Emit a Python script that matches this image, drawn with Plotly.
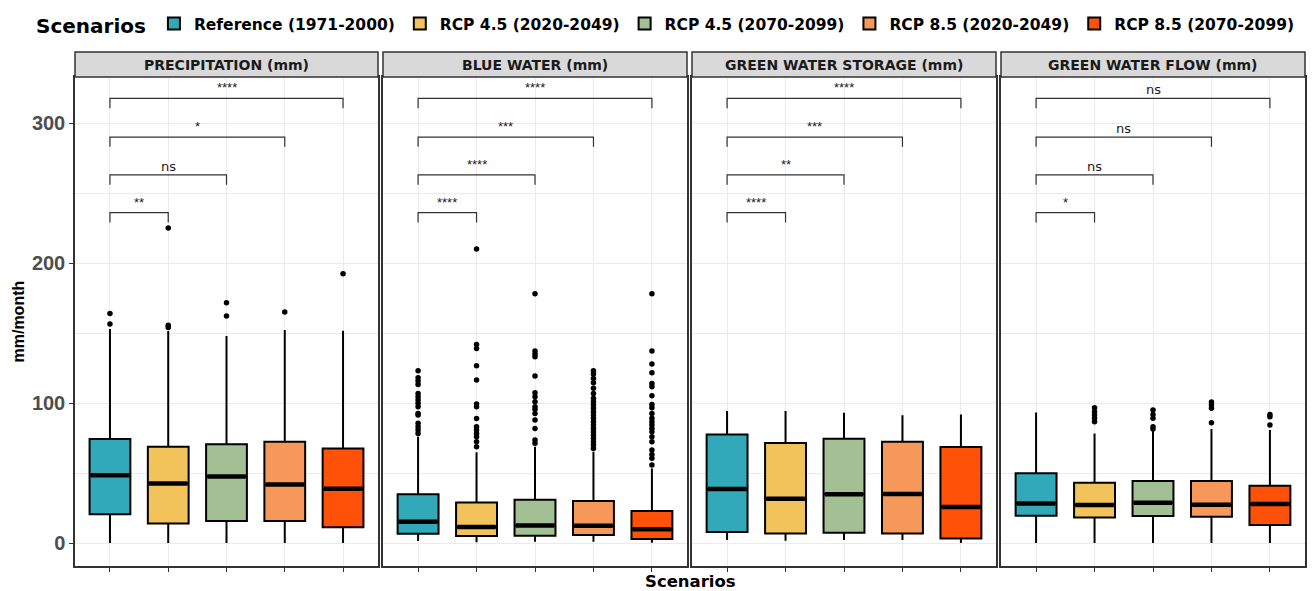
import plotly.graph_objects as go

# ---- data -------------------------------------------------------------
scenarios = ["Reference (1971-2000)", "RCP 4.5 (2020-2049)", "RCP 4.5 (2070-2099)",
             "RCP 8.5 (2020-2049)", "RCP 8.5 (2070-2099)"]
colors = ["#31A9B8", "#F2C35B", "#A3BF94", "#F5985A", "#FF5108"]
panels = ["PRECIPITATION (mm)", "BLUE WATER (mm)", "GREEN WATER STORAGE (mm)",
          "GREEN WATER FLOW (mm)"]

precip_q1 = [20.5, 14.0, 15.7, 15.7, 11.2]
precip_med = [48.4, 42.6, 47.6, 41.9, 38.8]
precip_q3 = [74.3, 68.8, 70.5, 72.4, 67.6]
precip_lo = [0, 0, 0, 0, 0]
precip_hi = [152.9, 151.4, 147.9, 152.1, 151.7]
precip_out = [[164, 156.4], [225, 155.5, 154], [171.6, 162.1], [165], [192.4]]

blue_q1 = [6.7, 5.0, 5.2, 5.7, 2.9]
blue_med = [15.2, 11.4, 12.6, 12.4, 9.8]
blue_q3 = [34.8, 29.0, 30.9, 30.0, 22.9]
blue_lo = [1.4, 0.5, 1.0, 1.0, 0.2]
blue_hi = [75.9, 64.8, 68.8, 65.2, 53.3]
blue_out = [
    [123.1, 118.1, 115.7, 113.3, 106.9, 104.5, 102.1, 99.8, 97.4, 92.6, 91.4,
     85.5, 83.1, 80.7, 78.3],
    [210, 141.9, 139, 126.7, 116.4, 99.3, 97.4, 89, 83.1, 80.7, 78.3, 75.9,
     72.4, 68.8],
    [178.1, 137.1, 135, 133.1, 119.3, 107.4, 104.5, 100.9, 97.4, 95.5, 92.6,
     87.9, 81.9, 73.6, 71.2],
    [123.1, 120.7, 117.6, 114.5, 110.5, 106.9, 103.4, 100.9, 98.6, 96.2, 93.8,
     91.4, 89.1, 86.7, 84.3, 81.9, 79.5, 77.1, 74.8, 72.4, 70, 67.6],
    [178.1, 137.1, 127.9, 121.7, 114, 111.7, 105.2, 99, 96.7, 92.6, 89.1, 86.7,
     84.3, 81.9, 79.5, 75.9, 72.4, 66.4, 63.3, 60.5, 55.7],
]

gws_q1 = [7.9, 6.9, 7.4, 6.9, 3.3]
gws_med = [38.6, 31.7, 34.8, 35.0, 25.7]
gws_q3 = [77.6, 71.4, 74.5, 72.4, 68.6]
gws_lo = [2.1, 1.7, 2.1, 2.1, 0]
gws_hi = [94.3, 94.3, 93.1, 91.2, 91.9]
gws_out = [[], [], [], [], []]

gwf_q1 = [19.5, 18.3, 19.3, 18.8, 12.9]
gwf_med = [28.3, 27.1, 28.8, 27.4, 27.9]
gwf_q3 = [49.8, 43.1, 44.3, 44.3, 40.9]
gwf_lo = [0, 0, 0, 0, 0]
gwf_hi = [93.3, 78.3, 80.7, 81.4, 80.7]
gwf_out = [[], [96.7, 93.8, 91.4, 89.1, 86.7], [95, 91.9, 89.1, 83.1, 81.5],
           [100.7, 98.6, 96.2, 85.9], [91.9, 90.2, 84.3]]

# significance of each scenario vs. the reference
compare_to = [2, 3, 4, 5]
bracket_y = [236, 263, 290, 317.6]
precip_sig = ["**", "ns", "*", "****"]
blue_sig = ["****", "****", "***", "****"]
gws_sig = ["****", "**", "***", "****"]
gwf_sig = ["*", "ns", "ns", "ns"]

panel_data = [
    (precip_q1, precip_med, precip_q3, precip_lo, precip_hi, precip_out, precip_sig),
    (blue_q1, blue_med, blue_q3, blue_lo, blue_hi, blue_out, blue_sig),
    (gws_q1, gws_med, gws_q3, gws_lo, gws_hi, gws_out, gws_sig),
    (gwf_q1, gwf_med, gwf_q3, gwf_lo, gwf_hi, gwf_out, gwf_sig),
]

# ---- layout geometry ---------------------------------------------------
W, H = 1316, 591
x_domains = [(75, 378), (383, 687), (692, 996), (1001, 1305)]
plot_top, plot_bottom, strip_top = 77, 566, 52
y_dom = [1 - plot_bottom / H, 1 - plot_top / H]
box_w = 0.7
tip = 7
FONT = "Liberation Sans, Arial, sans-serif"
WIDE = "DejaVu Sans, Verdana, sans-serif"
GRID = "#EBEBEB"
FRAME = "#333333"

fig = go.Figure()
layout_axes = {}
annotations = []
shapes = []

for p, (q1, med, q3, lo, hi, outs, sig) in enumerate(panel_data):
    ax = "" if p == 0 else str(p + 1)
    xref, yref = "x" + ax, "y" + ax
    for i in range(5):
        xi = i + 1
        fig.add_trace(go.Box(
            x=[xi], q1=[q1[i]], median=[med[i]], q3=[q3[i]],
            lowerfence=[lo[i]], upperfence=[hi[i]],
            width=box_w, whiskerwidth=0, boxpoints=False,
            fillcolor=colors[i], line=dict(color="black", width=2),
            name=scenarios[i], legendgroup=scenarios[i],
            showlegend=(p == 0), xaxis=xref, yaxis=yref, hoverinfo="skip"))
        # thicker median bar
        fig.add_trace(go.Scatter(
            x=[xi - box_w / 2 + 0.02, xi + box_w / 2 - 0.02], y=[med[i], med[i]],
            mode="lines", line=dict(color="black", width=4.5),
            showlegend=False, xaxis=xref, yaxis=yref, hoverinfo="skip"))
        if outs[i]:
            fig.add_trace(go.Scatter(
                x=[xi] * len(outs[i]), y=outs[i], mode="markers",
                marker=dict(color="black", size=5.5),
                showlegend=False, xaxis=xref, yaxis=yref, hoverinfo="skip"))
    # significance brackets
    for k, j in enumerate(compare_to):
        h = bracket_y[k]
        fig.add_trace(go.Scatter(
            x=[1, 1, j, j], y=[h - tip, h, h, h - tip], mode="lines",
            line=dict(color=FRAME, width=1.2),
            showlegend=False, xaxis=xref, yaxis=yref, hoverinfo="skip"))
        is_ns = sig[k] == "ns"
        annotations.append(dict(
            x=(1 + j) / 2, y=h, xref=xref, yref=yref, text=sig[k],
            showarrow=False, xanchor="center", yanchor="bottom",
            yshift=-1 if is_ns else 1,
            font=dict(family=WIDE if is_ns else FONT, size=13, color="#1A1A1A")))

    x0, x1 = x_domains[p]
    dom = [x0 / W, x1 / W]
    layout_axes["xaxis" + ax] = dict(
        domain=dom, range=[0.4, 5.6], tickvals=[1, 2, 3, 4, 5],
        ticktext=[""] * 5, ticks="outside", ticklen=4, tickcolor=FRAME,
        showgrid=True, gridcolor=GRID, gridwidth=1, zeroline=False,
        showline=True, linecolor=FRAME, linewidth=1.5, mirror=True,
        anchor=yref)
    layout_axes["yaxis" + ax] = dict(
        domain=y_dom, range=[-16.4, 332.9], tickvals=[0, 100, 200, 300],
        showticklabels=(p == 0), ticks="outside" if p == 0 else "",
        ticklen=4, tickcolor=FRAME,
        tickfont=dict(family=FONT, size=20, color="#4D4D4D", weight="bold"),
        showgrid=True, gridcolor=GRID, gridwidth=1, zeroline=False,
        minor=dict(tickvals=[50, 150, 250], showgrid=True, gridcolor=GRID,
                   gridwidth=0.6, ticks=""),
        showline=True, linecolor=FRAME, linewidth=1.5, mirror=True,
        anchor=xref)
    if p > 0:
        layout_axes["yaxis" + ax]["matches"] = "y"

    # facet strip
    strip_y1 = 1 - strip_top / H
    shapes.append(dict(type="rect", xref="paper", yref="paper",
                       x0=dom[0], x1=dom[1], y0=y_dom[1], y1=strip_y1,
                       fillcolor="#D9D9D9", line=dict(color=FRAME, width=1.5),
                       layer="above"))
    annotations.append(dict(
        x=(dom[0] + dom[1]) / 2, y=(y_dom[1] + strip_y1) / 2,
        xref="paper", yref="paper", text=panels[p], showarrow=False,
        xanchor="center", yanchor="middle",
        font=dict(family=WIDE, size=14, color="#1A1A1A", weight="bold")))

# axis titles
annotations.append(dict(
    x=(x_domains[0][0] + x_domains[3][1]) / 2 / W, y=1 - 581 / H,
    xref="paper", yref="paper", text="Scenarios", showarrow=False,
    xanchor="center", yanchor="middle",
    font=dict(family=WIDE, size=16.5, color="black", weight="bold")))
annotations.append(dict(
    x=18 / W, y=(y_dom[0] + y_dom[1]) / 2, xref="paper", yref="paper",
    text="mm/month", textangle=-90, showarrow=False,
    xanchor="center", yanchor="middle",
    font=dict(family=FONT, size=16, color="black", weight="bold")))

fig.update_layout(
    width=W, height=H, margin=dict(l=0, r=0, t=0, b=0),
    plot_bgcolor="white", paper_bgcolor="white",
    font=dict(family=FONT),
    shapes=shapes, annotations=annotations,
    legend=dict(
        orientation="h", x=34 / W, y=1 - 25 / H, xanchor="left", yanchor="middle",
        title=dict(text="Scenarios", side="left",
                   font=dict(family=WIDE, size=20, color="black", weight="bold")),
        font=dict(family=WIDE, size=15.5, color="black", weight="bold"),
        itemwidth=30, tracegroupgap=0, bgcolor="rgba(0,0,0,0)"),
    **layout_axes)

fig.write_html("out.html")
